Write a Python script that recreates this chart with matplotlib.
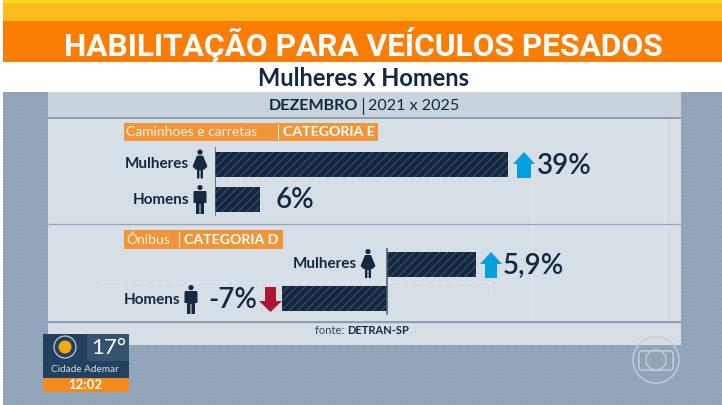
import numpy as np
import matplotlib
matplotlib.use("Agg")
import matplotlib.pyplot as plt
from matplotlib.patches import Rectangle, Polygon, Circle, FancyBboxPatch

plt.rcParams['font.family'] = ['Lato', 'DejaVu Sans']
plt.rcParams['hatch.linewidth'] = 0.5

categories = ["Homens", "Mulheres"]
caminhoes_values = [6, 39]
onibus_values = [-7, 5.9]
caminhoes_labels = ["6%", "39%"]
onibus_labels = ["-7%", "5,9%"]

NAVY = '#14283f'
W, H = 722, 405
fig = plt.figure(figsize=(W / 100, H / 100), dpi=100, facecolor='white')
px = fig.add_axes([0, 0, 1, 1])
px.set_xlim(0, W); px.set_ylim(H, 0); px.axis('off')


def rect(x0, y0, x1, y1, c, z=1, **kw):
    px.add_patch(Rectangle((x0, y0), x1 - x0, y1 - y0, fc=c, ec='none', zorder=z, **kw))


# banner
rect(3, 0, W, 3, '#f5dc1c')
rect(3, 3, W, 21, '#fdbb1e')
rect(3, 21, W, 62, '#fb7d02')
rect(3, 92, W, H, '#8ea2b7')
# dotted texture of the backdrop
tex = np.zeros((H - 92, W - 3, 4))
tex[::3, :, :3] = 1; tex[::3, :, 3] = 0.07
tex[:, ::3, :3] = 1; tex[:, ::3, 3] = 0.07
px.imshow(tex, extent=(3, W, H, 92), zorder=1.5, aspect='auto', interpolation='nearest')
px.set_xlim(0, W); px.set_ylim(H, 0)

# panel
rect(48, 92, 681, 345, '#c9d3dc', z=2)
rect(48, 119, 681, 322, '#d7dfe6', z=2)
rect(48, 324, 681, 345, '#d7dfe6', z=2)
for y, c, lw in [(118, '#8a9fb0', 2), (224, '#93a6b6', 1.3), (322, '#8a9fb0', 2)]:
    px.plot([48, 681], [y, y], color=c, lw=lw * .72, zorder=2.2, solid_capstyle='butt')
# faint construction lines
for x, y0, y1 in [(532, 178, 322), (665, 119, 322)]:
    px.plot([x, x], [y0, y1], color='#e3e9ee', lw=.7, zorder=2.1)
px.plot([100, 491], [282, 282], color='#e3e9ee', lw=.7, ls=(0, (5, 4)), zorder=2.1)
px.plot([491, 491], [282, 322], color='#e3e9ee', lw=.7, ls=(0, (5, 4)), zorder=2.1)

# titles
px.text(363.5, 45, "HABILITAÇÃO PARA VEÍCULOS PESADOS", color='white', fontsize=22.8, weight='bold',
        family='Roboto', ha='center', va='center', zorder=5)
px.text(363.5, 79, "Mulheres x Homens", color=NAVY, fontsize=17, weight='bold', ha='center', va='center', zorder=5)
px.text(358, 105.5, "DEZEMBRO", color=NAVY, fontsize=11.6, weight='bold', ha='right', va='center', zorder=5)
px.plot([363, 363], [98, 114], color=NAVY, lw=.8, zorder=5)
px.text(368, 105.5, "2021 x 2025", color=NAVY, fontsize=11.6, ha='left', va='center', zorder=5)

# section tags
rect(124, 123, 378, 141, '#f0953a', z=3)
px.text(126, 132.5, "Caminhoes e carretas", color='#fdf0e0', fontsize=10, ha='left', va='center', zorder=5)
px.plot([278, 278], [125, 139], color='#fdf0e0', lw=.8, zorder=5)
px.text(283, 132.5, "CATEGORIA E", color='white', fontsize=10.2, weight='bold', ha='left', va='center', zorder=5)
rect(124, 230, 283, 249, '#f0953a', z=3)
px.text(126, 240, "Ônibus", color='#fdf0e0', fontsize=10, ha='left', va='center', zorder=5)
px.plot([179, 179], [232, 247], color='#fdf0e0', lw=.8, zorder=5)
px.text(184, 240, "CATEGORIA D", color='white', fontsize=10.2, weight='bold', ha='left', va='center', zorder=5)


def data_axes(x0, x1, y0, y1, xlim, vals):
    a = fig.add_axes([x0 / W, 1 - y1 / H, (x1 - x0) / W, (y1 - y0) / H], zorder=3)
    a.patch.set_alpha(0); a.axis('off')
    a.barh(range(len(vals)), vals, height=25 / 34.5, color=NAVY, edgecolor='#54697e', hatch='////', lw=0)
    a.axvline(0, ymin=0.02, ymax=1, color='#4b5a68', lw=1.1)
    a.set_xlim(*xlim); a.set_ylim(-0.5, 1.5)
    return a


# 7.5 px per percent point in the upper chart, 15 px in the lower one
data_axes(215, 215 + 7.5 * 45, 147.25, 216.25, (0, 45), caminhoes_values)
data_axes(387 - 15 * 8, 387 + 15 * 8, 247.5, 315.5, (-8, 8), onibus_values)

# labels
lab = dict(color=NAVY, weight='bold', fontsize=11, va='center', zorder=5)
px.text(189, 164.5, categories[1], ha='right', **lab)
px.text(189, 200, categories[0], ha='right', **lab)
px.text(357, 264, categories[1], ha='right', **lab)
px.text(180, 299.5, categories[0], ha='right', **lab)

val = dict(color=NAVY, fontsize=20, va='center', zorder=5, weight='semibold')
px.text(537, 166, caminhoes_labels[1], ha='left', **val)
px.text(276, 200, caminhoes_labels[0], ha='left', **val)
px.text(503, 266, onibus_labels[1], ha='left', **val)
px.text(257, 300, onibus_labels[0], ha='right', **val)


def up(cx, tip, hb, bot, hw, sw, c):
    px.add_patch(Polygon([(cx, tip), (cx + hw, hb), (cx + sw, hb), (cx + sw, bot), (cx - sw, bot), (cx - sw, hb),
                          (cx - hw, hb)], closed=True, fc=c, ec='none', zorder=5))


up(524, 152, 164, 178, 11, 7, '#049fe0')
up(491, 252, 264, 278, 11, 6, '#049fe0')
up(270.5, 312, 301, 287, 11.5, 5.5, '#ae1530')


def person(cx, top, h, woman):
    s = h / 29
    px.add_patch(Circle((cx, top + 2.6 * s), 2.6 * s, fc=NAVY, ec='none', zorder=5))
    if woman:
        pts = [(-3, 6), (3, 6), (7.5, 17), (4.5, 20), (3, 20), (3, 29), (.6, 29), (.6, 21), (-.6, 21), (-.6, 29),
               (-3, 29), (-3, 20), (-4.5, 20), (-7.5, 17)]
    else:
        pts = [(-6, 6), (6, 6), (6.5, 8), (6.5, 18), (4, 18), (4, 29), (.5, 29), (.5, 19), (-.5, 19), (-.5, 29),
               (-4, 29), (-4, 18), (-6.5, 18), (-6.5, 8)]
    px.add_patch(Polygon([(cx + a * s, top + b * s) for a, b in pts], closed=True, fc=NAVY, ec='none', zorder=5))


person(200, 149.5, 29, True)
person(200, 185, 29, False)
person(368, 249, 29, True)
person(191, 285, 29, False)

px.text(315, 331, "fonte: ", color='#33475b', fontsize=8, ha='left', va='center', zorder=5)
px.text(347, 331, "DETRAN-SP", color=NAVY, fontsize=8, weight='bold', ha='left', va='center', zorder=5)

# weather card
rect(43, 334, 129, 378, '#22405f', z=6)
rect(87, 334, 129, 361, '#35526f', z=6.1)
rect(43, 378, 129, 392, '#f28a1e', z=6)
px.add_patch(Circle((65, 347), 6.5, fc='#f2aa10', ec='none', zorder=7))
px.add_patch(Circle((65, 347), 11, fc='none', ec='#c3ccd5', lw=.9, zorder=7))
px.text(109, 348, "17°", color='white', fontsize=16, ha='center', va='center', zorder=7)
px.text(85, 369, "Cidade Ademar", color='#d6dee5', fontsize=7.2, ha='center', va='center', zorder=7)
px.text(85, 385, "12:02", color='white', fontsize=9.5, weight='bold', ha='center', va='center', zorder=7)

# watermark
g = '#c3cfd9'
px.add_patch(Circle((656, 360), 23, fc='none', ec=g, lw=1, zorder=4))
px.add_patch(FancyBboxPatch((639, 351), 34, 19, boxstyle='round,pad=0,rounding_size=3', fc='none', ec=g, lw=1, zorder=4))
px.add_patch(Circle((656, 360), 10, fc='none', ec=g, lw=1, zorder=4))

fig.savefig('out.png', dpi=100)
